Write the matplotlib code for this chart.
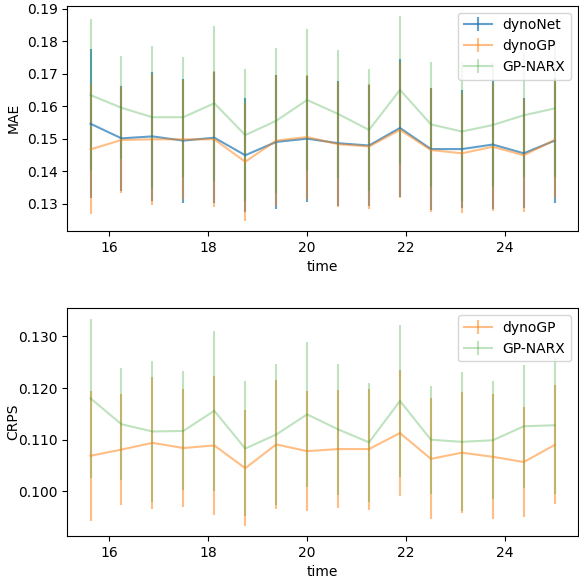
import numpy as np
from matplotlib import pyplot as plt
from matplotlib.ticker import FormatStrFormatter

time = [15.625, 16.25, 16.875, 17.5, 18.125, 18.75, 19.375, 20.0,
        20.625, 21.25, 21.875, 22.5, 23.125, 23.75, 24.375, 25.0]

# MAE
mae_dynonet = [0.1546, 0.1501, 0.1507, 0.1494, 0.1503, 0.1449, 0.1490, 0.1500,
               0.1486, 0.1479, 0.1533, 0.1468, 0.1468, 0.1482, 0.1455, 0.1494]
mae_dynonet_err = [0.0229, 0.0161, 0.0199, 0.0191, 0.0202, 0.0176, 0.0206, 0.0194,
                   0.0192, 0.0186, 0.0212, 0.0188, 0.0182, 0.0199, 0.0169, 0.0193]
mae_dynogp = [0.1467, 0.1496, 0.1498, 0.1498, 0.1498, 0.1429, 0.1494, 0.1505,
              0.1483, 0.1476, 0.1527, 0.1465, 0.1455, 0.1475, 0.1449, 0.1496]
mae_dynogp_err = [0.0200, 0.0164, 0.0201, 0.0183, 0.0209, 0.0182, 0.0202, 0.0192,
                  0.0192, 0.0191, 0.0208, 0.0190, 0.0185, 0.0197, 0.0173, 0.0180]
mae_gpnarx = [0.1634, 0.1595, 0.1566, 0.1566, 0.1609, 0.1511, 0.1555, 0.1619,
              0.1576, 0.1527, 0.1650, 0.1544, 0.1522, 0.1542, 0.1572, 0.1593]
mae_gpnarx_err = [0.0234, 0.0159, 0.0219, 0.0184, 0.0238, 0.0202, 0.0223, 0.0217,
                  0.0197, 0.0188, 0.0228, 0.0193, 0.0215, 0.0190, 0.0191, 0.0210]

# CRPS
crps_dynogp = [0.1069, 0.1081, 0.1094, 0.1084, 0.1089, 0.1045, 0.1091, 0.1078,
               0.1082, 0.1082, 0.1113, 0.1063, 0.1075, 0.1067, 0.1057, 0.1090]
crps_dynogp_err = [0.0126, 0.0108, 0.0127, 0.0114, 0.0135, 0.0112, 0.0124, 0.0116,
                   0.0114, 0.0117, 0.0122, 0.0117, 0.0117, 0.0121, 0.0106, 0.0115]
crps_gpnarx = [0.1180, 0.1130, 0.1116, 0.1117, 0.1156, 0.1083, 0.1110, 0.1149,
               0.1120, 0.1095, 0.1175, 0.1100, 0.1096, 0.1099, 0.1126, 0.1128]
crps_gpnarx_err = [0.0153, 0.0108, 0.0137, 0.0115, 0.0155, 0.0131, 0.0136, 0.0140,
                   0.0126, 0.0115, 0.0147, 0.0104, 0.0134, 0.0114, 0.0119, 0.0132]

fig = plt.figure(figsize=(5.79, 5.80), dpi=100)
ax1 = fig.add_axes([0.1162, 0.6017, 0.882, 0.3885])
ax2 = fig.add_axes([0.1162, 0.0759, 0.882, 0.3925])

ax1.errorbar(time, mae_dynonet, yerr=mae_dynonet_err, color="C0", alpha=0.7, label="dynoNet")
ax1.errorbar(time, mae_dynogp, yerr=mae_dynogp_err, color="C1", alpha=0.5, label="dynoGP")
ax1.errorbar(time, mae_gpnarx, yerr=mae_gpnarx_err, color="C2", alpha=0.3, label="GP-NARX")
ax1.set_ylim(0.1216, 0.1909)
ax1.set_xlabel("time")
ax1.set_ylabel("MAE")
ax1.legend(loc="upper right")

ax2.errorbar(time, crps_dynogp, yerr=crps_dynogp_err, color="C1", alpha=0.5, label="dynoGP")
ax2.errorbar(time, crps_gpnarx, yerr=crps_gpnarx_err, color="C2", alpha=0.3, label="GP-NARX")
ax2.set_ylim(0.0914, 0.1354)
ax2.yaxis.set_major_formatter(FormatStrFormatter("%.3f"))
ax2.set_xlabel("time")
ax2.set_ylabel("CRPS")
ax2.legend(loc="upper right")

for ax in (ax1, ax2):
    ax.set_xlim(15.156, 25.469)
    ax.yaxis.set_label_coords(-0.092, 0.5)

fig.savefig("out.png", dpi=100)
